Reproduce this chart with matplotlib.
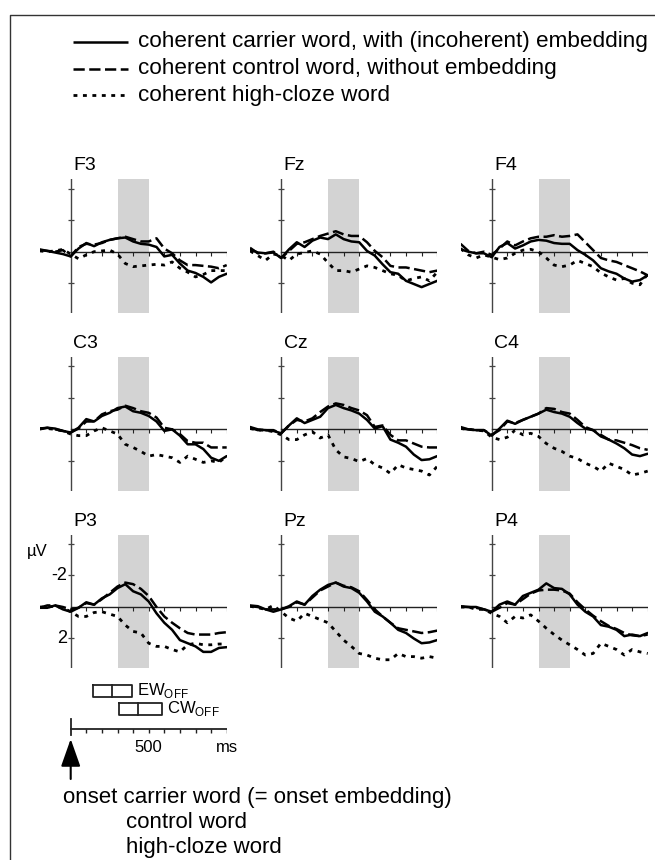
import numpy as np
import matplotlib
matplotlib.use("Agg")
import matplotlib.pyplot as plt

plt.rcParams['font.family'] = ['Liberation Sans', 'DejaVu Sans']
plt.rcParams['mathtext.fontset'] = 'custom'
plt.rcParams['mathtext.rm'] = 'Liberation Sans'

# time axis (ms) and ERP amplitudes (µV, negative plotted up)
times = np.arange(-200, 1001, 50)

f3_solid = [-0.1, -0.05, 0.05, 0.15, 0.3, -0.2, -0.55, -0.35, -0.6, -0.75, -0.85, -0.9, -0.65, -0.5, -0.45, -0.3, 0.3, 0.2, 0.75, 1.2, 1.35, 1.6, 1.95, 1.6, 1.4]
f3_dashed = [-0.15, -0.05, 0, -0.1, 0.3, -0.3, -0.5, -0.45, -0.55, -0.75, -0.85, -0.95, -0.8, -0.65, -0.65, -0.85, -0.2, 0.1, 0.55, 0.85, 0.85, 0.9, 0.95, 1.05, 0.85]
f3_dotted = [-0.05, 0, -0.05, -0.15, 0.15, 0.45, 0.2, 0, -0.05, -0.1, 0.15, 0.75, 0.95, 0.9, 0.85, 0.8, 0.85, 0.65, 1.05, 1.3, 1.6, 1.45, 1.2, 1.2, 1.2]

fz_solid = [-0.15, 0.05, 0.1, 0.05, 0.4, -0.15, -0.6, -0.3, -0.7, -0.9, -0.8, -1.1, -0.8, -0.65, -0.6, -0.05, 0.25, 0.8, 1.3, 1.4, 1.85, 2.05, 2.25, 2.05, 1.85]
fz_dashed = [-0.25, 0.1, 0.1, 0, 0.4, -0.05, -0.5, -0.6, -0.8, -1.0, -1.15, -1.3, -1.1, -1.0, -1.0, -0.6, -0.05, 0.35, 0.9, 1.0, 1.0, 1.1, 1.2, 1.3, 1.2]
fz_dotted = [-0.05, 0.25, 0.55, 0.15, 0.25, 0.55, 0.15, 0.05, -0.05, 0.15, 0.7, 1.2, 1.2, 1.3, 1.1, 0.9, 1.0, 1.2, 1.4, 1.5, 1.85, 1.7, 1.6, 1.85, 1.3]

f4_solid = [-0.15, 0, 0.1, 0.1, 0.35, -0.3, -0.55, -0.2, -0.4, -0.65, -0.75, -0.7, -0.55, -0.5, -0.5, -0.1, 0.2, 0.55, 1.05, 1.25, 1.4, 1.7, 1.9, 1.8, 1.5]
f4_dashed = [-0.5, -0.05, 0.1, 0, 0.2, -0.2, -0.65, -0.4, -0.65, -0.85, -0.95, -0.95, -1.05, -0.95, -1.0, -1.1, -0.6, -0.1, 0.4, 0.55, 0.65, 0.85, 1.05, 1.25, 1.5]
f4_dotted = [-0.2, 0.2, 0.4, 0.2, 0.35, 0.5, 0.4, 0.1, -0.1, -0.15, 0, 0.4, 0.85, 0.95, 0.85, 0.55, 0.75, 0.95, 1.35, 1.6, 1.8, 1.7, 2.0, 2.1, 1.4]

c3_solid = [-0.05, -0.1, -0.05, 0.1, 0.2, -0.1, -0.65, -0.5, -0.85, -1.05, -1.35, -1.45, -1.15, -1.05, -0.85, -0.5, 0.1, 0, 0.4, 0.95, 0.95, 1.25, 1.8, 2.0, 1.7]
c3_dashed = [0, -0.1, 0, 0.1, 0.2, -0.05, -0.5, -0.5, -0.95, -1.15, -1.25, -1.5, -1.35, -1.15, -1.05, -0.75, -0.1, 0, 0.3, 0.75, 0.85, 0.85, 1.15, 1.15, 1.15]
c3_dotted = [-0.05, -0.05, 0, 0.1, 0.3, 0.4, 0.4, 0.1, -0.1, 0.1, 0.3, 0.95, 1.15, 1.4, 1.7, 1.6, 1.7, 1.8, 2.1, 1.7, 1.9, 2.1, 2.0, 2.1, 1.7]

cz_solid = [-0.15, 0, 0.05, 0.1, 0.25, -0.25, -0.7, -0.4, -0.6, -0.8, -1.35, -1.55, -1.35, -1.2, -1.0, -0.6, -0.05, -0.2, 0.65, 0.85, 1.1, 1.6, 1.95, 1.9, 1.7]
cz_dashed = [-0.1, 0.05, 0.05, 0.05, 0.25, -0.25, -0.6, -0.5, -0.7, -1.1, -1.45, -1.65, -1.55, -1.35, -1.2, -0.9, -0.15, -0.25, 0.35, 0.7, 0.7, 0.9, 1.1, 1.15, 1.15]
cz_dotted = [-0.05, 0.05, 0.05, 0.15, 0.35, 0.65, 0.65, 0.35, 0.15, 0.55, 0.35, 1.3, 1.75, 1.85, 2.05, 1.85, 2.25, 2.45, 2.8, 2.25, 2.45, 2.55, 2.65, 2.9, 2.35]

c4_solid = [-0.15, 0, 0.05, 0.05, 0.4, -0.05, -0.55, -0.35, -0.6, -0.8, -1.0, -1.25, -1.1, -1.0, -0.8, -0.4, -0.05, 0.05, 0.45, 0.65, 0.9, 1.2, 1.6, 1.7, 1.55]
c4_dashed = [-0.05, 0, 0.05, 0.05, 0.35, 0.05, -0.5, -0.4, -0.6, -0.8, -1.0, -1.35, -1.3, -1.1, -1.0, -0.6, -0.15, 0.05, 0.35, 0.65, 0.7, 0.85, 1.0, 1.2, 1.3]
c4_dotted = [-0.05, 0, 0.05, 0.1, 0.5, 0.65, 0.5, 0.05, 0.35, 0.25, 0.45, 0.9, 1.2, 1.4, 1.7, 1.85, 2.15, 2.35, 2.65, 2.15, 2.35, 2.55, 2.9, 2.8, 2.65]

p3_solid = [0.05, 0.05, -0.1, 0.15, 0.3, 0.05, -0.3, -0.15, -0.55, -0.8, -1.2, -1.45, -1.0, -0.8, -0.35, 0.4, 1.0, 1.45, 2.1, 2.3, 2.5, 2.85, 2.85, 2.6, 2.55]
p3_dashed = [0.05, -0.1, -0.1, 0, 0.15, 0.05, -0.25, -0.15, -0.5, -0.9, -1.3, -1.55, -1.45, -1.15, -0.7, 0, 0.6, 1.0, 1.35, 1.65, 1.75, 1.75, 1.75, 1.65, 1.6]
p3_dotted = [0, 0, -0.05, 0.05, 0.3, 0.6, 0.6, 0.35, 0.3, 0.45, 0.6, 1.15, 1.55, 1.65, 2.3, 2.5, 2.5, 2.7, 2.85, 2.4, 2.3, 2.4, 2.4, 2.35, 2.35]

pz_solid = [-0.1, -0.05, 0.15, 0.3, 0.15, -0.05, -0.35, -0.15, -0.7, -1.1, -1.4, -1.55, -1.3, -1.2, -0.9, -0.35, 0.3, 0.6, 1.0, 1.45, 1.65, 2.0, 2.3, 2.25, 2.1]
pz_dashed = [-0.05, 0, 0.15, 0.15, 0.15, 0, -0.3, -0.15, -0.6, -1.05, -1.3, -1.55, -1.35, -1.25, -1.0, -0.45, 0.15, 0.6, 1.0, 1.35, 1.45, 1.55, 1.65, 1.6, 1.5]
pz_dotted = [-0.05, 0.05, 0.15, -0.1, 0.3, 0.7, 0.9, 0.4, 0.6, 0.8, 1.0, 1.55, 2.1, 2.5, 2.95, 3.05, 3.25, 3.35, 3.35, 2.95, 3.15, 3.15, 3.25, 3.15, 3.25]

p4_solid = [-0.05, 0, 0, 0.15, 0.3, -0.15, -0.35, -0.15, -0.7, -0.9, -1.1, -1.5, -1.2, -1.15, -0.8, -0.15, 0.3, 0.6, 1.15, 1.25, 1.45, 1.85, 1.75, 1.85, 1.65]
p4_dashed = [0, 0, 0.05, 0.15, 0.3, 0.05, -0.25, -0.15, -0.5, -0.85, -1.05, -1.1, -1.1, -1.05, -0.85, -0.3, 0.15, 0.55, 0.9, 1.2, 1.4, 1.65, 1.8, 1.85, 1.75]
p4_dotted = [0, 0, 0.15, 0.15, 0.4, 0.6, 1.0, 0.6, 0.7, 0.5, 0.9, 1.35, 1.75, 2.1, 2.4, 2.7, 3.05, 2.95, 2.3, 2.5, 2.7, 3.05, 2.7, 2.85, 2.95]

channels = ['F3', 'Fz', 'F4', 'C3', 'Cz', 'C4', 'P3', 'Pz', 'P4']
waves = [
    (f3_solid, f3_dashed, f3_dotted), (fz_solid, fz_dashed, fz_dotted), (f4_solid, f4_dashed, f4_dotted),
    (c3_solid, c3_dashed, c3_dotted), (cz_solid, cz_dashed, cz_dotted), (c4_solid, c4_dashed, c4_dotted),
    (p3_solid, p3_dashed, p3_dotted), (pz_solid, pz_dashed, pz_dotted), (p4_solid, p4_dashed, p4_dotted),
]

legend_labels = ['coherent carrier word, with (incoherent) embedding',
                 'coherent control word, without embedding',
                 'coherent high-cloze word']

window = (300, 500)          # shaded analysis window (ms)
ew_off = [140, 265, 390]     # embedded word offset: min, median, max (ms)
cw_off = [310, 430, 585]     # carrier word offset (ms)

# styles
styles = [dict(color='black', lw=1.8, ls='-'),
          dict(color='black', lw=1.8, ls=(0, (4.5, 1.8))),
          dict(color='black', lw=2.0, ls=(0, (1.4, 2.0)))]

W, H = 655, 860
fig = plt.figure(figsize=(W / 100, H / 100), dpi=100)

ov = fig.add_axes([0, 0, 1, 1])
ov.set_xlim(0, W)
ov.set_ylim(H, 0)
ov.axis('off')

# frame
ov.plot([9.5, 9.5, W], [H, 14.5, 14.5], color='#333333', lw=1.0)

# legend
for i, (lab, st) in enumerate(zip(legend_labels, styles)):
    y = 42 + i * 26.5
    ov.plot([73, 128], [y, y], solid_capstyle='butt', dash_capstyle='butt', **st)
    ov.text(138, y, lab, fontsize=16.2, va='center', ha='left')

px_ms = 0.156    # px per ms
px_uv = 15.75    # px per µV
ymin, ymax = -4.6, 3.9

for k, ch in enumerate(channels):
    r, c = divmod(k, 3)
    zero_px = 251.7 + r * 177.65
    axis_px = 70.7 + c * 210.5
    left_px = axis_px - 200 * px_ms
    width_px = 1200 * px_ms
    top_px = zero_px + ymin * px_uv
    height_px = (ymax - ymin) * px_uv
    ax = fig.add_axes([left_px / W, 1 - (top_px + height_px) / H, width_px / W, height_px / H])
    ax.set_xlim(-200, 1000)
    ax.set_ylim(ymax, ymin)
    ax.axis('off')
    ax.axvspan(window[0], window[1], color='#d3d3d3', lw=0, zorder=0)
    ax.plot([0, 0], [ymin, ymax], color='#444444', lw=1.0, zorder=1)
    ax.plot([0, 1000], [0, 0], color='#222222', lw=1.0, zorder=1)
    ax.vlines(np.arange(100, 1001, 100), 0, 0.25, color='#222222', lw=0.8, zorder=1)
    ax.plot(np.zeros(3), [-4, -2, 2], ls='none', marker='_', ms=5, mew=0.9, color='#444444', zorder=1)
    for vals, st in reversed(list(zip(waves[k], styles))):
        ax.plot(times, vals, zorder=3, solid_capstyle='round', dash_capstyle='butt', **st)
    ax.text(15, -5.45, ch, fontsize=14, ha='left', va='center')
    if ch == 'P3':
        ax.text(-280, -3.5, 'µV', fontsize=12, ha='left', va='center')
        ax.text(-25, -2, '-2', fontsize=13, ha='right', va='center')
        ax.text(-25, 2, '2', fontsize=13, ha='right', va='center')

# time scale, offset boxes and onset arrow (same ms scale as column 1)
sc = fig.add_axes([(70.7 - 200 * px_ms) / W, 0, 1200 * px_ms / W, 1])
sc.set_xlim(-200, 1000)
sc.set_ylim(H, 0)
sc.axis('off')
sc.plot([0, 1000], [729, 729], color='#222222', lw=1.3)
sc.vlines(np.arange(100, 1001, 100), 729, 733, color='#222222', lw=1.0)
sc.plot([0, 0], [719, 735], color='#222222', lw=1.3)
sc.text(500, 747, '500', fontsize=12, ha='center', va='center')
sc.text(1000, 747, 'ms', fontsize=12, ha='center', va='center')

for (lo, med, hi), yb, lab in [(ew_off, 685, r'$\mathrm{EW}_{\mathrm{OFF}}$'),
                               (cw_off, 703, r'$\mathrm{CW}_{\mathrm{OFF}}$')]:
    sc.plot([lo, hi, hi, lo, lo], [yb, yb, yb + 12, yb + 12, yb], color='#222222', lw=1.3)
    sc.plot([med, med], [yb, yb + 12], color='#222222', lw=1.3)
    sc.text(hi + 35, yb + 6, lab, fontsize=12, ha='left', va='center')

sc.annotate('', xy=(0, 739), xytext=(0, 779),
            arrowprops=dict(arrowstyle='-|>,head_length=1.7,head_width=0.6',
                            color='black', lw=1.5, shrinkA=0, shrinkB=0))

ov.text(63, 797, 'onset carrier word (= onset embedding)', fontsize=16, ha='left', va='center')
ov.text(126, 822, 'control word', fontsize=16, ha='left', va='center')
ov.text(126, 847, 'high-cloze word', fontsize=16, ha='left', va='center')

fig.savefig('out.png', dpi=100)
